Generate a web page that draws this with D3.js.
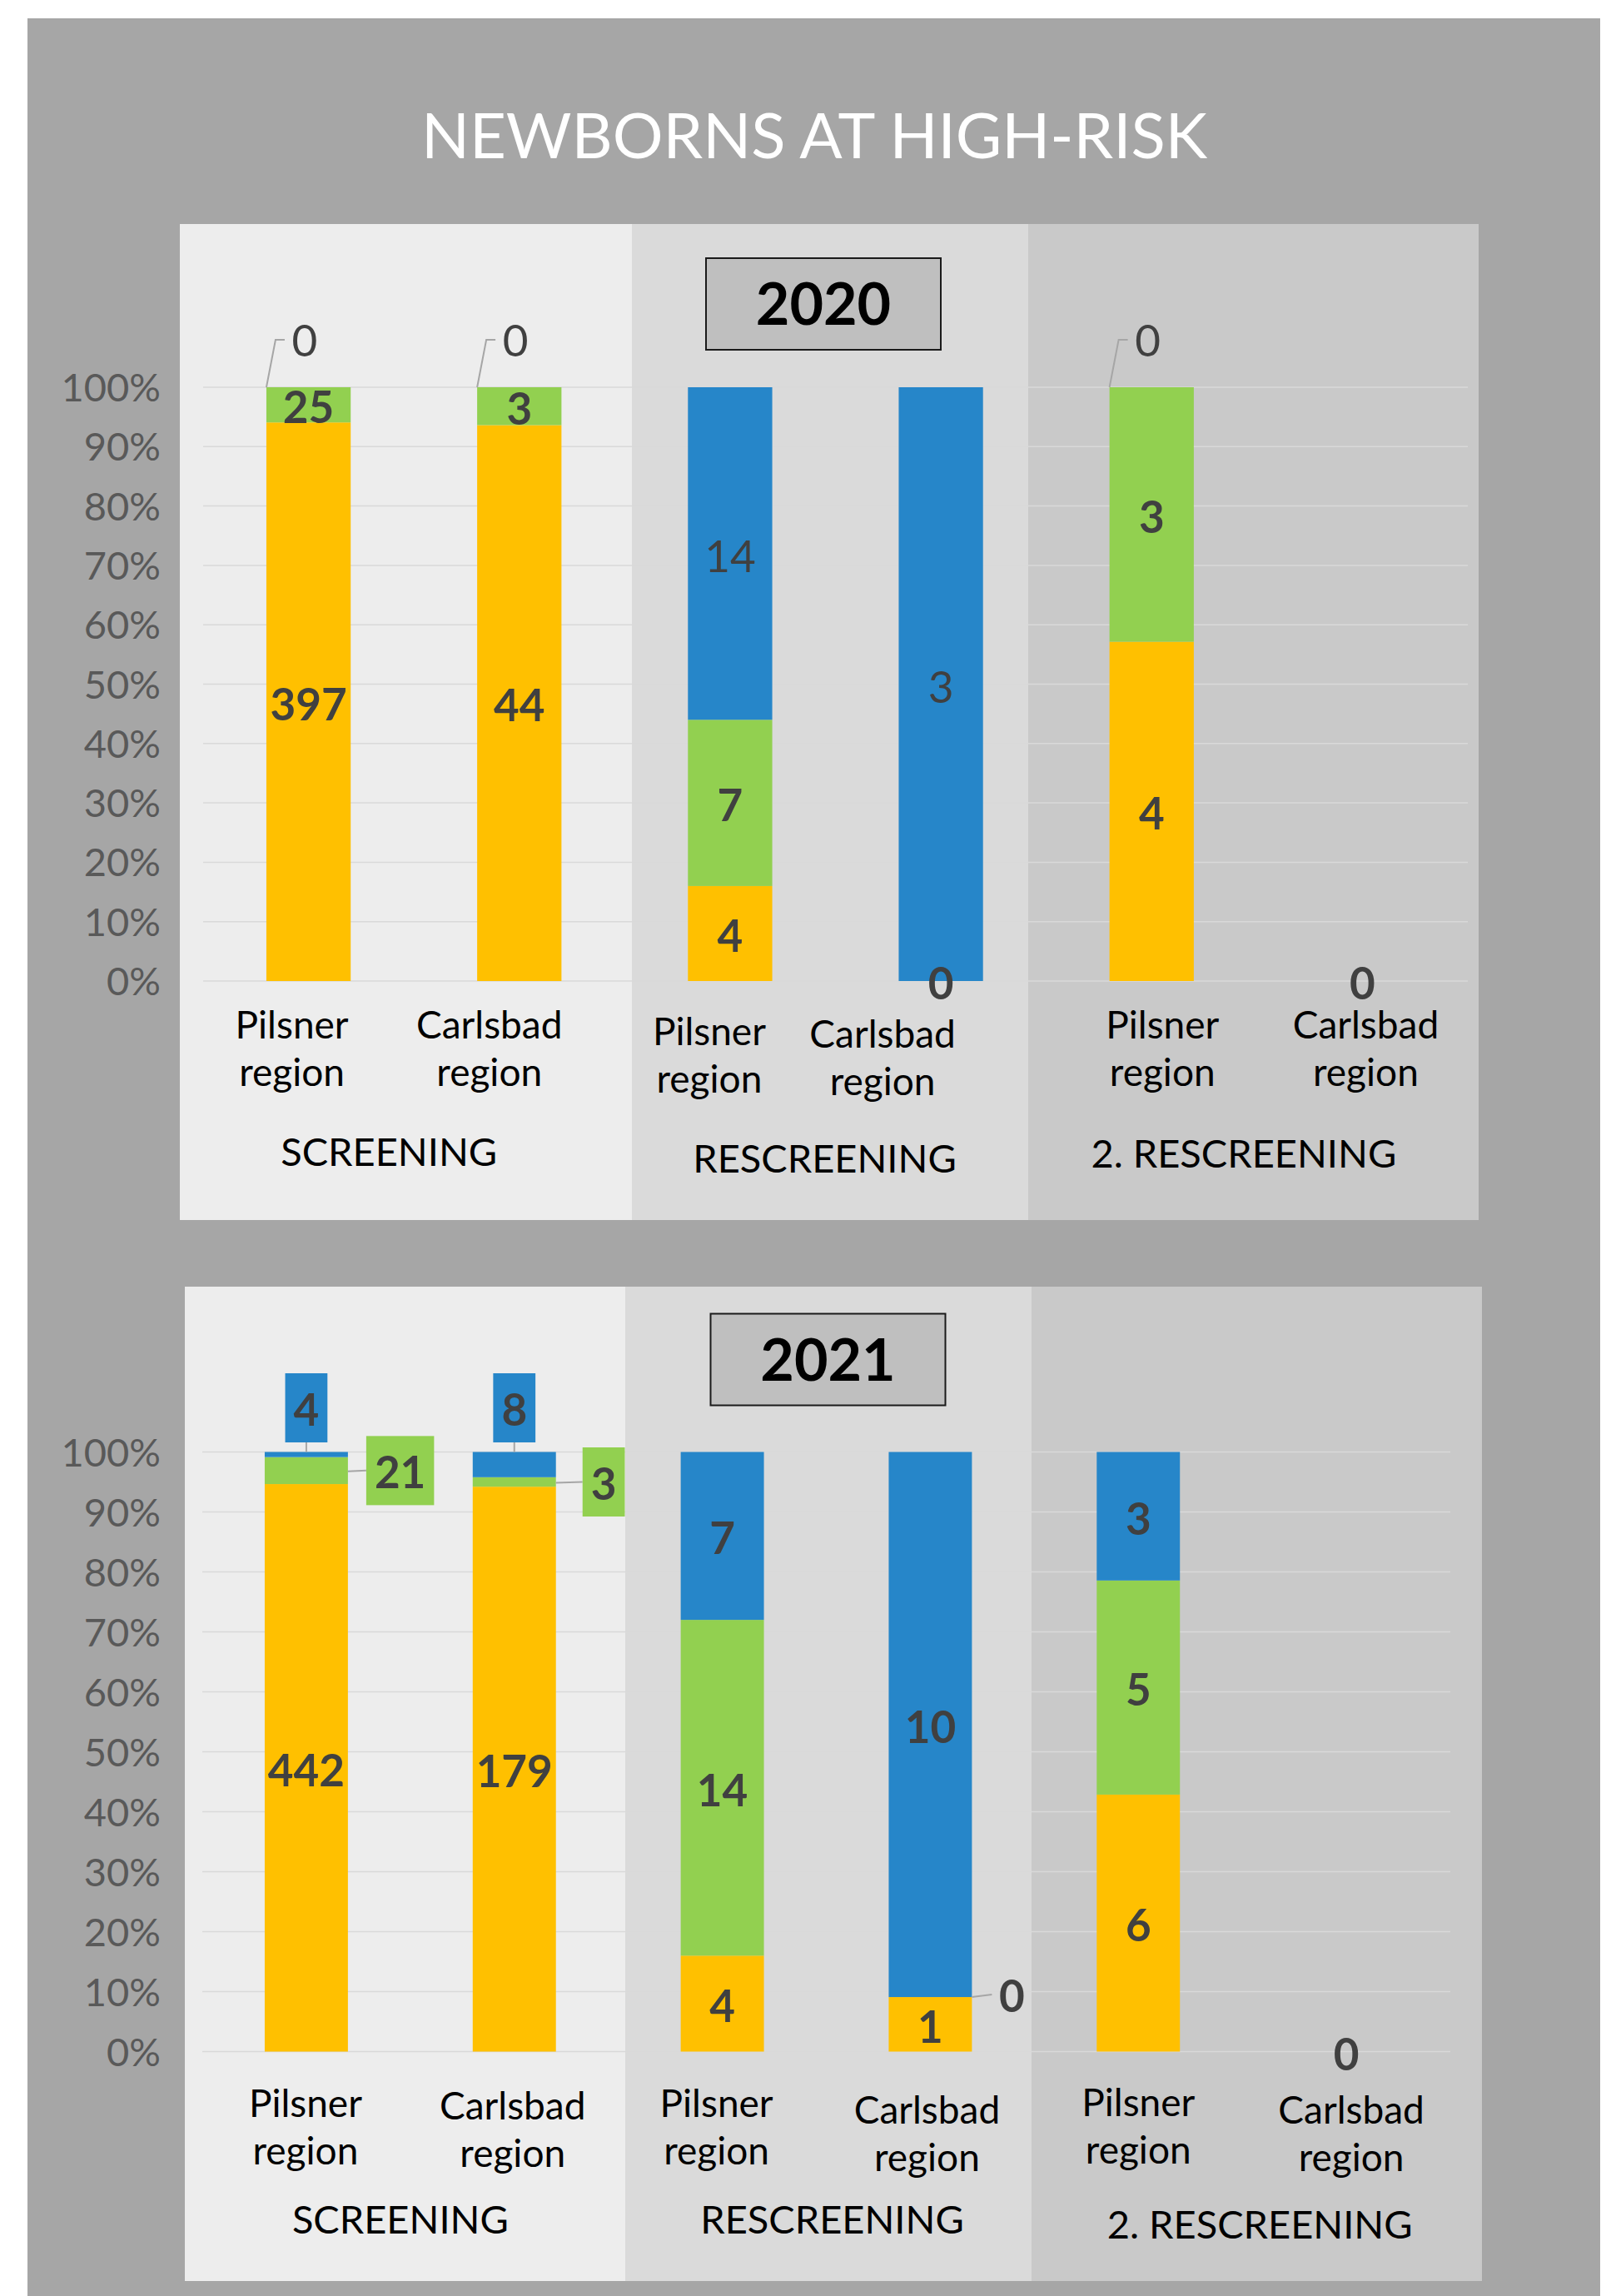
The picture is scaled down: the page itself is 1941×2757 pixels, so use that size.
<!DOCTYPE html>
<html lang="en">
<head>
<meta charset="UTF-8">
<title>Newborns at high-risk</title>
<script src="https://d3js.org/d3.v7.min.js"></script>
<style>
  body { margin: 0; background: #fff; }
  svg text { font-family: Lato, "Open Sans", sans-serif; }
</style>
</head>
<body>
<div id="chart"></div>
<script>
// ---- data ----
const title = "NEWBORNS AT HIGH-RISK";
const years = ["2020", "2021"];
const stages = ["SCREENING", "RESCREENING", "2. RESCREENING"];
const regions = ["Pilsner region", "Carlsbad region"];
const yTicks = [0, 0.1, 0.2, 0.3, 0.4, 0.5, 0.6, 0.7, 0.8, 0.9, 1];
const seriesKeys = ["yellow", "green", "blue"];

// order: screening P, screening C, rescreening P, rescreening C, 2.rescreening P, 2.rescreening C
const yellow2020 = [397, 44, 4, 0, 4, 0];
const green2020  = [25, 3, 7, null, 3, null];
const blue2020   = [0, 0, 14, 3, 0, null];
const yellow2021 = [442, 179, 4, 1, 6, 0];
const green2021  = [21, 3, 14, 0, 5, null];
const blue2021   = [4, 8, 7, 10, 3, null];

const values = {
  "2020": { yellow: yellow2020, green: green2020, blue: blue2020 },
  "2021": { yellow: yellow2021, green: green2021, blue: blue2021 }
};

// ---- layout ----
const W = 1941, H = 2757;
const colors = { yellow: "#ffc000", green: "#92d050", blue: "#2686c9" };
const panelFills = ["#ededed", "#dadada", "#c9c9c9"];

const panels = [
  { year: "2020", x0: 216, x1: 1776, top: 269, bottom: 1465, splits: [759, 1235],
    gx: [244, 1763], y100: 465, y0: 1178, box: [989, 365], blueBold: false,
    catShift: [[-20, 69], [-36, 69], [-25, 77], [-70, 80], [13, 69], [4, 69]],
    stageShift: [[-30, 222], [-13, 230], [-16, 224]] },
  { year: "2021", x0: 222, x1: 1780, top: 1545, bottom: 2739, splits: [751, 1239],
    gx: [243, 1742], y100: 1743.5, y0: 2463.5, box: [994.5, 1632.5], blueBold: true,
    catShift: [[-1, 78], [-2, 81], [-7, 78], [-4, 86], [0, 77], [6, 86]],
    stageShift: [[-12, 218], [7, 218], [21, 224]] }
];

const svg = d3.select("#chart").append("svg")
  .attr("width", W).attr("height", H);

svg.append("rect")
  .attr("x", 33).attr("y", 22)
  .attr("width", 1889).attr("height", H - 22)
  .attr("fill", "#a6a6a6");

svg.append("text")
  .attr("x", 978).attr("y", 190)
  .attr("text-anchor", "middle")
  .attr("fill", "#fff")
  .attr("font-size", 76)
  .attr("font-weight", 400)
  .text(title);

const keys = [];
stages.forEach((s, si) => regions.forEach((r, ri) => keys.push(si + "-" + ri)));

panels.forEach(p => {
  const g = svg.append("g");
  const v = values[p.year];

  // section backgrounds
  const edges = [p.x0, ...p.splits, p.x1];
  panelFills.forEach((c, i) => {
    g.append("rect")
      .attr("x", edges[i]).attr("y", p.top)
      .attr("width", edges[i + 1] - edges[i])
      .attr("height", p.bottom - p.top)
      .attr("fill", c);
  });

  const x = d3.scaleBand().domain(keys).range(p.gx)
    .paddingInner(0.6).paddingOuter(0.3);
  const y = d3.scaleLinear().domain([0, 1]).range([p.y0, p.y100]);

  // gridlines
  g.append("g").selectAll("line").data(yTicks).join("line")
    .attr("x1", p.gx[0]).attr("x2", p.gx[1])
    .attr("y1", d => y(d)).attr("y2", d => y(d))
    .attr("stroke", "#d9d9d9").attr("stroke-width", 1.5);

  // y axis labels
  const fmt = d3.format(".0%");
  g.append("g").selectAll("text").data(yTicks).join("text")
    .attr("x", 193).attr("y", d => y(d) + 17)
    .attr("text-anchor", "end")
    .attr("fill", "#595959")
    .attr("font-size", 47)
    .text(d => fmt(d));

  // stacked bars
  const rows = keys.map((k, i) => {
    const r = { key: k, i };
    seriesKeys.forEach(s => r[s] = v[s][i]);
    return r;
  });
  const stack = d3.stack().keys(seriesKeys)
    .value((d, k) => d[k] == null ? 0 : d[k])
    .offset(d3.stackOffsetExpand);
  const layers = stack(rows);

  layers.forEach(layer => {
    g.append("g").selectAll("rect").data(layer).join("rect")
      .attr("x", d => x(d.data.key))
      .attr("width", x.bandwidth())
      .attr("y", d => y(d[1]))
      .attr("height", d => y(d[0]) - y(d[1]))
      .attr("fill", colors[layer.key]);
  });

  // data labels
  const lg = g.append("g");
  const ink = "#404040";
  layers.forEach(layer => {
    const s = layer.key;
    layer.forEach(d => {
      const val = d.data[s];
      if (val == null) return;
      const i = d.data.i;
      const bx0 = x(d.data.key), bx1 = bx0 + x.bandwidth();
      const cx = bx0 + x.bandwidth() / 2;
      const ym = (y(d[0]) + y(d[1])) / 2 + 3;
      const bold = s !== "blue" || p.blueBold;
      const fs = 53;

      if (p.year === "2020" && s === "blue" && val === 0) {
        // callout above the bar, leader to the top-left corner
        const yt = y(1);
        lg.append("path")
          .attr("d", `M${bx0},${yt}L${bx0 + 11},${yt - 57}L${bx0 + 22},${yt - 57}`)
          .attr("fill", "none").attr("stroke", "#a6a6a6").attr("stroke-width", 2);
        lg.append("text")
          .attr("x", bx0 + 46).attr("y", yt - 56 + fs * 0.36)
          .attr("text-anchor", "middle").attr("fill", ink)
          .attr("font-size", fs).text(val);
      } else if (p.year === "2021" && i < 2 && s !== "yellow") {
        // boxed callouts on the screening bars
        const t = lg.append("text")
          .attr("text-anchor", "middle").attr("fill", ink)
          .attr("font-size", fs).attr("font-weight", 700).text(val);
        const tw = t.node().getComputedTextLength();
        const bw = tw + 20, bh = 83;
        let bcx, bcy, leader;
        if (s === "blue") {
          bcx = cx;
          bcy = y(1) - 53;
          leader = `M${cx},${bcy + bh / 2}L${cx},${y(d[1])}`;
        } else {
          bcx = bx1 + (i === 0 ? 22 : 32) + bw / 2;
          bcy = ym - 3;
          leader = `M${bx1},${ym - 2}L${bx1 + (i === 0 ? 22 : 32)},${bcy}`;
        }
        lg.insert("path", "text")
          .attr("d", leader)
          .attr("fill", "none").attr("stroke", "#a6a6a6").attr("stroke-width", 2);
        lg.insert("rect", "text")
          .attr("x", bcx - bw / 2).attr("y", bcy - bh / 2)
          .attr("width", bw).attr("height", bh)
          .attr("fill", colors[s]);
        t.attr("x", bcx).attr("y", bcy + 2 + fs * 0.36);
      } else if (p.year === "2021" && s === "green" && val === 0) {
        // zero callout to the right of the bar
        lg.append("path")
          .attr("d", `M${bx1},${ym - 3}L${bx1 + 24},${ym - 6}`)
          .attr("fill", "none").attr("stroke", "#a6a6a6").attr("stroke-width", 2);
        lg.append("text")
          .attr("x", bx1 + 48).attr("y", ym - 4 + fs * 0.36)
          .attr("text-anchor", "middle").attr("fill", ink)
          .attr("font-size", fs).attr("font-weight", 700).text(val);
      } else {
        lg.append("text")
          .attr("x", cx).attr("y", ym + fs * 0.36)
          .attr("text-anchor", "middle").attr("fill", ink)
          .attr("font-size", fs).attr("font-weight", bold ? 700 : 400)
          .text(val);
      }
    });
  });

  // category labels (two lines)
  keys.forEach((k, i) => {
    const [dx, dy] = p.catShift[i];
    const cx = x(k) + x.bandwidth() / 2 + dx;
    const words = regions[i % 2].split(" ");
    const t = g.append("text")
      .attr("text-anchor", "middle").attr("fill", "#000")
      .attr("font-size", 46);
    words.forEach((w, wi) => {
      t.append("tspan").attr("x", cx).attr("y", p.y0 + dy + wi * 57).text(w);
    });
  });

  // stage titles
  stages.forEach((st, si) => {
    const [dx, dy] = p.stageShift[si];
    const cx = (x(si + "-0") + x(si + "-1") + x.bandwidth()) / 2 + dx;
    g.append("text")
      .attr("x", cx).attr("y", p.y0 + dy)
      .attr("text-anchor", "middle").attr("fill", "#000")
      .attr("font-size", 47)
      .text(st);
  });

  // year box
  g.append("rect")
    .attr("x", p.box[0] - 141).attr("y", p.box[1] - 55)
    .attr("width", 282).attr("height", 110)
    .attr("fill", "#bfbfbf").attr("stroke", "#1a1a1a").attr("stroke-width", 2);
  g.append("text")
    .attr("x", p.box[0]).attr("y", p.box[1] + 25)
    .attr("text-anchor", "middle").attr("fill", "#000")
    .attr("font-size", 70).attr("font-weight", 700)
    .text(p.year);
});
</script>
</body>
</html>
